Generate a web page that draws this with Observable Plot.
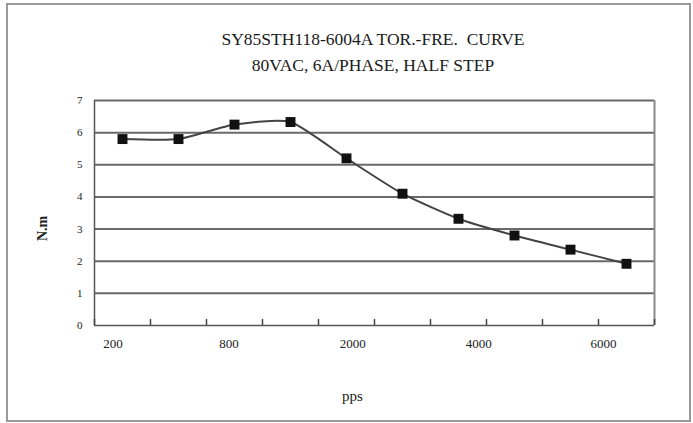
<!DOCTYPE html>
<html>
<head>
<meta charset="utf-8">
<script src="https://cdn.jsdelivr.net/npm/d3@7"></script>
<script src="https://cdn.jsdelivr.net/npm/@observablehq/plot@0.6"></script>
<style>
  body { margin: 0; background: #fff; }
  #wrap { position: relative; width: 693px; height: 423px; overflow: hidden;
          font-family: "Liberation Serif", "Times New Roman", serif; color: #222; }
  #frame { position: absolute; left: 6px; top: 3px; width: 685px; height: 419px;
           border: 2px solid #9a9a9a; box-sizing: border-box; }
  .ttl { position: absolute; left: 373px; transform: translateX(-50%); white-space: pre;
         font-size: 17.5px; line-height: 20px; color: #1a1a1a; }
  #t1 { top: 29px; }
  #t2 { top: 55px; }
  #chart { position: absolute; left: 0; top: 0; }
</style>
</head>
<body>
<div id="wrap">
  <div id="frame"></div>
  <div class="ttl" id="t1">SY85STH118-6004A TOR.-FRE.  CURVE</div>
  <div class="ttl" id="t2">80VAC, 6A/PHASE, HALF STEP</div>
  <div id="chart"></div>
</div>
<script>
// ---- data ----
const categories = ["200", "500", "800", "1200", "2000", "3000", "4000", "5000", "6000", "6500"];
const torque = [5.8, 5.8, 6.25, 6.33, 5.2, 4.1, 3.32, 2.8, 2.36, 1.92];
const xTickLabels = ["200", "800", "2000", "4000", "6000"];
const xTickAt = [-0.17, 1.9, 4.11, 6.36, 8.59];   // label positions, in category units
const yTicks = [0, 1, 2, 3, 4, 5, 6, 7];
const xTitle = "pps";
const yTitle = "N.m";

const rows = categories.map((c, i) => ({i, cat: c, t: torque[i]}));
const boundaries = d3.range(categories.length + 1).map(k => k - 0.5);

const chart = Plot.plot({
  width: 693,
  height: 423,
  marginLeft: 94,
  marginRight: 39,
  marginTop: 100,
  marginBottom: 98,
  style: {background: "transparent", fontFamily: "'Liberation Serif', 'Times New Roman', serif", color: "#222"},
  x: {domain: [-0.5, categories.length - 0.5], axis: null, label: null},
  y: {domain: [0, 7], axis: null, label: null},
  marks: [
    Plot.ruleY(yTicks.filter(d => d > 0), {stroke: "#6a6a6a", strokeWidth: 2}),
    Plot.ruleX([boundaries[boundaries.length - 1]], {stroke: "#888", strokeWidth: 2}),
    Plot.ruleX([boundaries[0]], {stroke: "#555", strokeWidth: 1.5}),
    Plot.ruleY([0], {stroke: "#555", strokeWidth: 1.5}),
    Plot.axisX({ticks: boundaries, tickSize: 6, dy: -6, tickFormat: () => "", label: null, stroke: "#444", strokeWidth: 1.5}),
    Plot.axisX({ticks: xTickAt, tickSize: 0, tickPadding: 13, fontSize: 13, label: null,
                tickFormat: d => xTickLabels[xTickAt.indexOf(d)]}),
    Plot.axisY({ticks: yTicks, tickSize: 0, tickPadding: 12, fontSize: 11, label: null, tickFormat: d => String(d)}),
    Plot.line(rows, {x: "i", y: "t", curve: "cardinal", tension: 0.4, stroke: "#444", strokeWidth: 2}),
    Plot.dot(rows, {x: "i", y: "t", symbol: "square", r: 5.6, fill: "#111", stroke: "none"}),
    Plot.text([xTitle], {frameAnchor: "bottom", dx: -22, dy: 75, fontSize: 15, fill: "#222"}),
    Plot.text([yTitle], {frameAnchor: "left", rotate: -90, dx: -52, dy: 28, fontSize: 14, fontWeight: "bold", fill: "#222"})
  ]
});
document.getElementById("chart").appendChild(chart);
</script>
</body>
</html>
